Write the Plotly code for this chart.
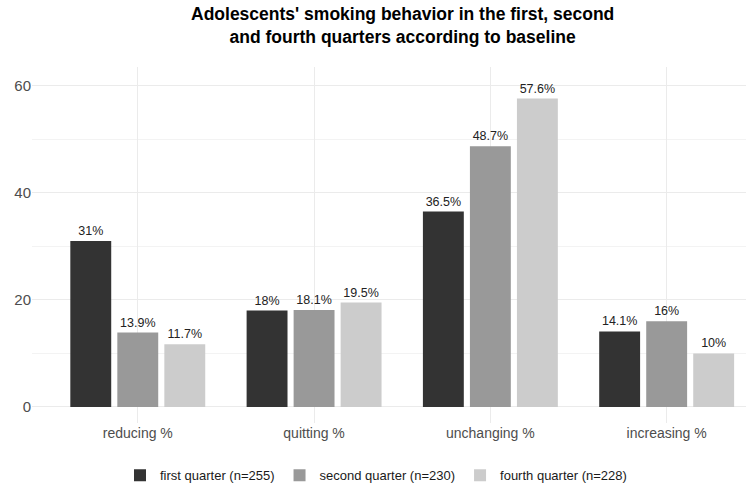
import plotly.graph_objects as go

categories = ["reducing %", "quitting %", "unchanging %", "increasing %"]
series_names = ["first quarter (n=255)", "second quarter (n=230)", "fourth quarter (n=228)"]
first_q = [31, 18, 36.5, 14.1]
second_q = [13.9, 18.1, 48.7, 16]
fourth_q = [11.7, 19.5, 57.6, 10]
colors = ["#333333", "#999999", "#cccccc"]

fig = go.Figure()
for name, vals, col in zip(series_names, [first_q, second_q, fourth_q], colors):
    fig.add_trace(go.Bar(
        x=categories, y=vals, name=name,
        marker=dict(color=col, line=dict(width=0)),
        text=[f"{v:g}%" for v in vals],
        textposition="outside",
        textfont=dict(family="Liberation Sans, Arial", size=12.5, color="#222222"),
        cliponaxis=False,
    ))

fig.add_annotation(
    text="<b>Adolescents' smoking behavior in the first, second<br>and fourth quarters according to baseline</b>",
    xref="paper", yref="paper", x=(402 - 32) / 714, y=1 + 18 / 356,
    xanchor="center", yanchor="bottom", showarrow=False, align="center",
    font=dict(family="Liberation Sans, Arial", size=17.5, color="black"),
)

fig.update_layout(
    width=746, height=496,
    margin=dict(l=32, r=0, t=67, b=73),
    paper_bgcolor="white", plot_bgcolor="white",
    barmode="group", bargap=0.2, bargroupgap=0.13,
    font=dict(family="Liberation Sans, Arial", color="#4d4d4d"),
    xaxis=dict(
        range=[-0.6, 3.45], showgrid=True, gridcolor="#ebebeb", gridwidth=1,
        zeroline=False, showline=False, ticks="",
        tickfont=dict(size=14, color="#4d4d4d"),
    ),
    yaxis=dict(
        range=[-3, 63.5], tickvals=[0, 20, 40, 60],
        showgrid=True, gridcolor="#ebebeb", gridwidth=1,
        minor=dict(tickvals=[10, 30, 50], showgrid=True, gridcolor="#f3f3f3", gridwidth=1),
        zeroline=False, showline=False, ticks="",
        tickfont=dict(size=15, color="#4d4d4d"),
    ),
    legend=dict(
        orientation="h", x=(376 - 32) / 714, xanchor="center",
        y=-0.105, yanchor="top",
        font=dict(size=13, color="#1a1a1a"),
        itemwidth=30,
    ),
)

fig.write_html("out.html")
